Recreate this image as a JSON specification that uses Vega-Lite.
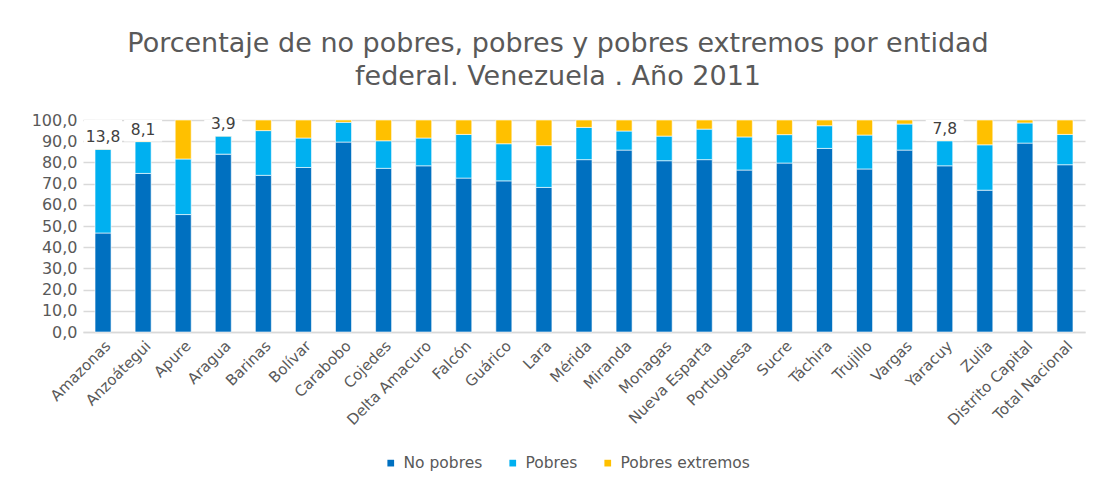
{
  "$schema": "https://vega.github.io/schema/vega-lite/v6.json",
  "width": 1002,
  "height": 212,
  "autosize": {"type": "none"},
  "padding": {"left": 83, "top": 120, "right": 11, "bottom": 148},
  "background": "white",
  "title": {
    "text": ["Porcentaje de no pobres, pobres y pobres extremos por entidad", "federal. Venezuela . Año 2011"],
    "anchor": "middle",
    "frame": "group",
    "dx": -26,
    "offset": 21,
    "font": "DejaVu Sans",
    "fontSize": 27,
    "fontWeight": "normal",
    "color": "#595959",
    "lineHeight": 33
  },
  "data": {
    "values": [
      {"entidad": "Amazonas", "tipo": "No pobres", "orden": 1, "valor": 46.7},
      {"entidad": "Amazonas", "tipo": "Pobres", "orden": 2, "valor": 39.5},
      {"entidad": "Amazonas", "tipo": "Pobres extremos", "orden": 3, "valor": 13.8},
      {"entidad": "Anzoátegui", "tipo": "No pobres", "orden": 1, "valor": 74.8},
      {"entidad": "Anzoátegui", "tipo": "Pobres", "orden": 2, "valor": 15.0},
      {"entidad": "Anzoátegui", "tipo": "Pobres extremos", "orden": 3, "valor": 8.1},
      {"entidad": "Apure", "tipo": "No pobres", "orden": 1, "valor": 55.4},
      {"entidad": "Apure", "tipo": "Pobres", "orden": 2, "valor": 26.2},
      {"entidad": "Apure", "tipo": "Pobres extremos", "orden": 3, "valor": 18.4},
      {"entidad": "Aragua", "tipo": "No pobres", "orden": 1, "valor": 83.9},
      {"entidad": "Aragua", "tipo": "Pobres", "orden": 2, "valor": 8.5},
      {"entidad": "Aragua", "tipo": "Pobres extremos", "orden": 3, "valor": 3.9},
      {"entidad": "Barinas", "tipo": "No pobres", "orden": 1, "valor": 73.9},
      {"entidad": "Barinas", "tipo": "Pobres", "orden": 2, "valor": 21.1},
      {"entidad": "Barinas", "tipo": "Pobres extremos", "orden": 3, "valor": 5.0},
      {"entidad": "Bolívar", "tipo": "No pobres", "orden": 1, "valor": 77.6},
      {"entidad": "Bolívar", "tipo": "Pobres", "orden": 2, "valor": 13.9},
      {"entidad": "Bolívar", "tipo": "Pobres extremos", "orden": 3, "valor": 8.5},
      {"entidad": "Carabobo", "tipo": "No pobres", "orden": 1, "valor": 89.6},
      {"entidad": "Carabobo", "tipo": "Pobres", "orden": 2, "valor": 9.3},
      {"entidad": "Carabobo", "tipo": "Pobres extremos", "orden": 3, "valor": 1.1},
      {"entidad": "Cojedes", "tipo": "No pobres", "orden": 1, "valor": 77.2},
      {"entidad": "Cojedes", "tipo": "Pobres", "orden": 2, "valor": 13.0},
      {"entidad": "Cojedes", "tipo": "Pobres extremos", "orden": 3, "valor": 9.8},
      {"entidad": "Delta Amacuro", "tipo": "No pobres", "orden": 1, "valor": 78.4},
      {"entidad": "Delta Amacuro", "tipo": "Pobres", "orden": 2, "valor": 13.1},
      {"entidad": "Delta Amacuro", "tipo": "Pobres extremos", "orden": 3, "valor": 8.5},
      {"entidad": "Falcón", "tipo": "No pobres", "orden": 1, "valor": 72.6},
      {"entidad": "Falcón", "tipo": "Pobres", "orden": 2, "valor": 20.6},
      {"entidad": "Falcón", "tipo": "Pobres extremos", "orden": 3, "valor": 6.8},
      {"entidad": "Guárico", "tipo": "No pobres", "orden": 1, "valor": 71.3},
      {"entidad": "Guárico", "tipo": "Pobres", "orden": 2, "valor": 17.5},
      {"entidad": "Guárico", "tipo": "Pobres extremos", "orden": 3, "valor": 11.2},
      {"entidad": "Lara", "tipo": "No pobres", "orden": 1, "valor": 68.2},
      {"entidad": "Lara", "tipo": "Pobres", "orden": 2, "valor": 19.7},
      {"entidad": "Lara", "tipo": "Pobres extremos", "orden": 3, "valor": 12.1},
      {"entidad": "Mérida", "tipo": "No pobres", "orden": 1, "valor": 81.3},
      {"entidad": "Mérida", "tipo": "Pobres", "orden": 2, "valor": 15.2},
      {"entidad": "Mérida", "tipo": "Pobres extremos", "orden": 3, "valor": 3.5},
      {"entidad": "Miranda", "tipo": "No pobres", "orden": 1, "valor": 85.8},
      {"entidad": "Miranda", "tipo": "Pobres", "orden": 2, "valor": 9.0},
      {"entidad": "Miranda", "tipo": "Pobres extremos", "orden": 3, "valor": 5.2},
      {"entidad": "Monagas", "tipo": "No pobres", "orden": 1, "valor": 80.8},
      {"entidad": "Monagas", "tipo": "Pobres", "orden": 2, "valor": 11.6},
      {"entidad": "Monagas", "tipo": "Pobres extremos", "orden": 3, "valor": 7.6},
      {"entidad": "Nueva Esparta", "tipo": "No pobres", "orden": 1, "valor": 81.3},
      {"entidad": "Nueva Esparta", "tipo": "Pobres", "orden": 2, "valor": 14.4},
      {"entidad": "Nueva Esparta", "tipo": "Pobres extremos", "orden": 3, "valor": 4.3},
      {"entidad": "Portuguesa", "tipo": "No pobres", "orden": 1, "valor": 76.4},
      {"entidad": "Portuguesa", "tipo": "Pobres", "orden": 2, "valor": 15.6},
      {"entidad": "Portuguesa", "tipo": "Pobres extremos", "orden": 3, "valor": 8.0},
      {"entidad": "Sucre", "tipo": "No pobres", "orden": 1, "valor": 79.7},
      {"entidad": "Sucre", "tipo": "Pobres", "orden": 2, "valor": 13.4},
      {"entidad": "Sucre", "tipo": "Pobres extremos", "orden": 3, "valor": 6.9},
      {"entidad": "Táchira", "tipo": "No pobres", "orden": 1, "valor": 86.6},
      {"entidad": "Táchira", "tipo": "Pobres", "orden": 2, "valor": 10.7},
      {"entidad": "Táchira", "tipo": "Pobres extremos", "orden": 3, "valor": 2.7},
      {"entidad": "Trujillo", "tipo": "No pobres", "orden": 1, "valor": 76.9},
      {"entidad": "Trujillo", "tipo": "Pobres", "orden": 2, "valor": 16.0},
      {"entidad": "Trujillo", "tipo": "Pobres extremos", "orden": 3, "valor": 7.1},
      {"entidad": "Vargas", "tipo": "No pobres", "orden": 1, "valor": 85.8},
      {"entidad": "Vargas", "tipo": "Pobres", "orden": 2, "valor": 12.3},
      {"entidad": "Vargas", "tipo": "Pobres extremos", "orden": 3, "valor": 1.9},
      {"entidad": "Yaracuy", "tipo": "No pobres", "orden": 1, "valor": 78.4},
      {"entidad": "Yaracuy", "tipo": "Pobres", "orden": 2, "valor": 11.8},
      {"entidad": "Yaracuy", "tipo": "Pobres extremos", "orden": 3, "valor": 7.8},
      {"entidad": "Zulia", "tipo": "No pobres", "orden": 1, "valor": 66.9},
      {"entidad": "Zulia", "tipo": "Pobres", "orden": 2, "valor": 21.4},
      {"entidad": "Zulia", "tipo": "Pobres extremos", "orden": 3, "valor": 11.7},
      {"entidad": "Distrito Capital", "tipo": "No pobres", "orden": 1, "valor": 89.1},
      {"entidad": "Distrito Capital", "tipo": "Pobres", "orden": 2, "valor": 9.5},
      {"entidad": "Distrito Capital", "tipo": "Pobres extremos", "orden": 3, "valor": 1.4},
      {"entidad": "Total Nacional", "tipo": "No pobres", "orden": 1, "valor": 78.9},
      {"entidad": "Total Nacional", "tipo": "Pobres", "orden": 2, "valor": 14.3},
      {"entidad": "Total Nacional", "tipo": "Pobres extremos", "orden": 3, "valor": 6.8}
    ]
  },
  "transform": [
    {"stack": "valor", "groupby": ["entidad"], "sort": [{"field": "orden", "order": "ascending"}], "as": ["v0", "v1"]}
  ],
  "encoding": {
    "x": {
      "field": "entidad",
      "type": "nominal",
      "sort": null,
      "title": null,
      "scale": {"paddingInner": 0.6, "paddingOuter": 0.3},
      "axis": {
        "labelAngle": -45,
        "labelFont": "DejaVu Sans",
        "labelFontSize": 15,
        "labelColor": "#595959",
        "ticks": false,
        "domain": true,
        "domainColor": "#D9D9D9",
        "domainWidth": 1.5,
        "labelPadding": 6,
        "labelOverlap": false
      }
    }
  },
  "layer": [
    {
      "mark": {"type": "bar", "stroke": "#ffffff", "strokeWidth": 0.6},
      "encoding": {
        "y": {
          "field": "v1",
          "type": "quantitative",
          "title": null,
          "scale": {"domain": [0, 100]},
          "axis": {
            "values": [0, 10, 20, 30, 40, 50, 60, 70, 80, 90, 100],
            "format": ".1f",
            "labelFont": "DejaVu Sans",
            "labelFontSize": 16,
            "labelColor": "#595959",
            "labelOverlap": false,
            "ticks": false,
            "domain": false,
            "gridColor": "#D9D9D9",
            "gridWidth": 1.5,
            "labelPadding": 6
          }
        },
        "y2": {"field": "v0"},
        "color": {
          "field": "tipo",
          "type": "nominal",
          "scale": {"domain": ["No pobres", "Pobres", "Pobres extremos"], "range": ["#0070C0", "#00B0F0", "#FFC000"]},
          "legend": {
            "title": null,
            "orient": "none",
            "legendX": 300,
            "legendY": 335,
            "direction": "horizontal",
            "symbolType": "square",
            "symbolSize": 45,
            "symbolStrokeWidth": 0,
            "labelFont": "DejaVu Sans",
            "labelFontSize": 15.5,
            "labelColor": "#595959",
            "columnPadding": 22,
            "labelOffset": 5
          }
        }
      }
    },
    {
      "transform": [
        {"filter": {"field": "tipo", "equal": "Pobres extremos"}},
        {"filter": {"field": "entidad", "oneOf": ["Amazonas", "Anzoátegui", "Aragua", "Yaracuy"]}}
      ],
      "mark": {"type": "bar", "color": "#ffffff", "width": 38},
      "encoding": {
        "y": {
          "field": "v0",
          "type": "quantitative",
          "title": null,
          "scale": {"domain": [0, 100]},
          "axis": {
            "values": [0, 10, 20, 30, 40, 50, 60, 70, 80, 90, 100],
            "format": ".1f",
            "labelFont": "DejaVu Sans",
            "labelFontSize": 16,
            "labelColor": "#595959",
            "labelOverlap": false,
            "ticks": false,
            "domain": false,
            "gridColor": "#D9D9D9",
            "gridWidth": 1.5,
            "labelPadding": 6
          }
        },
        "y2": {"datum": 100}
      }
    },
    {
      "transform": [
        {"filter": {"field": "tipo", "equal": "Pobres extremos"}},
        {"filter": {"field": "entidad", "oneOf": ["Amazonas", "Anzoátegui", "Aragua", "Yaracuy"]}}
      ],
      "mark": {"type": "text", "baseline": "middle", "dy": -12, "font": "DejaVu Sans", "fontSize": 15.5, "color": "#404040"},
      "encoding": {
        "y": {
          "field": "v0",
          "type": "quantitative",
          "title": null,
          "scale": {"domain": [0, 100]},
          "axis": {
            "values": [0, 10, 20, 30, 40, 50, 60, 70, 80, 90, 100],
            "format": ".1f",
            "labelFont": "DejaVu Sans",
            "labelFontSize": 16,
            "labelColor": "#595959",
            "labelOverlap": false,
            "ticks": false,
            "domain": false,
            "gridColor": "#D9D9D9",
            "gridWidth": 1.5,
            "labelPadding": 6
          }
        },
        "text": {"field": "valor", "type": "quantitative", "format": ".1f"}
      }
    }
  ],
  "config": {
    "locale": {"number": {"decimal": ",", "thousands": ".", "grouping": [3], "currency": ["", " €"]}},
    "view": {"stroke": null}
  }
}
